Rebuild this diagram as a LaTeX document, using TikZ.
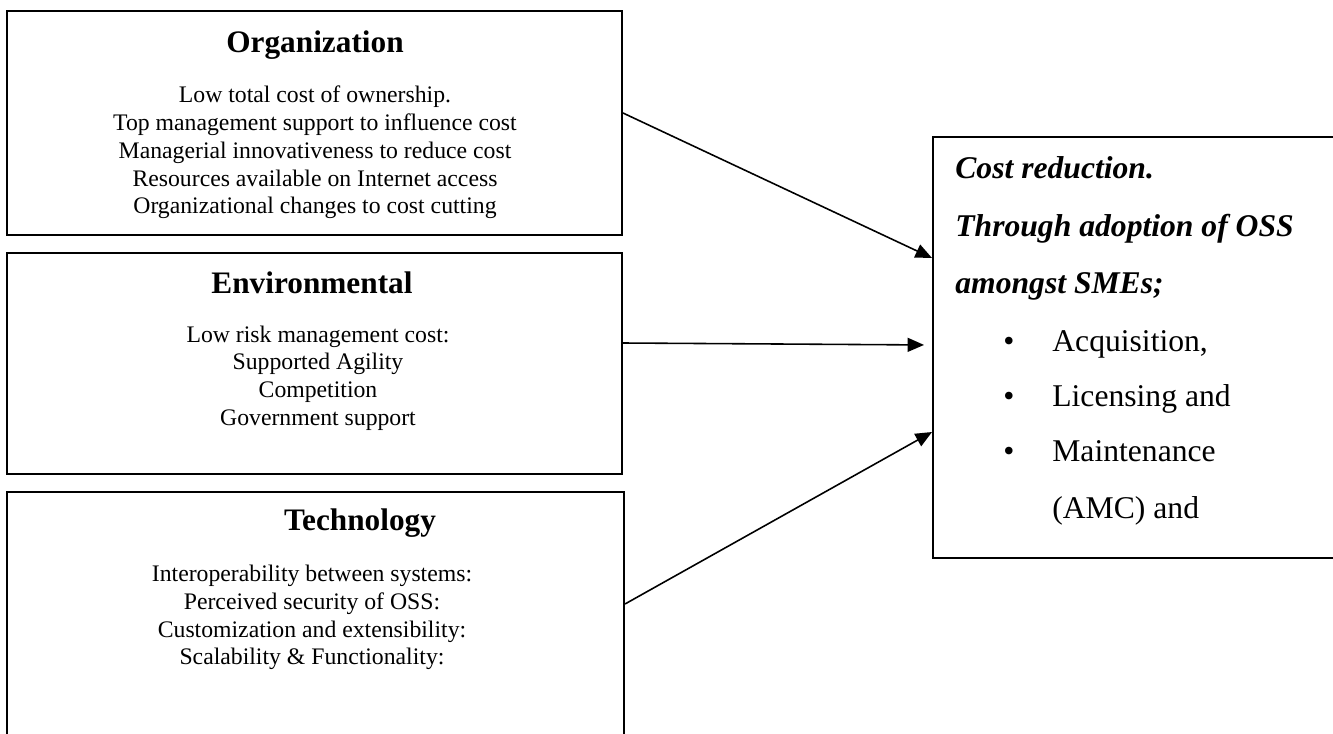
\documentclass[tikz,border=0pt]{standalone}
\usepackage{fontspec}
\setmainfont{Liberation Serif}
\usepackage{tikz}
\usetikzlibrary{calc,arrows.meta}

\begin{document}
\begin{tikzpicture}[x=0.2mm,y=-0.2mm]
          \clip (0,0) rectangle (1333,733);
          \tikzset{Box/.style = {draw, line width=1.1pt, inner sep=0pt}};
          \tikzset{Head/.style = {font=\bfseries\fontsize{17.8}{20}\selectfont}};
          \tikzset{Body/.style = {align=center, font={\fontsize{13.5}{15.8}\selectfont}}};
          \tikzset{Goal/.style = {anchor=base west, inner sep=0pt, font=\bfseries\itshape\fontsize{18}{21}\selectfont}};
          \tikzset{Item/.style = {anchor=base west, inner sep=0pt, font={\fontsize{18}{21}\selectfont}}};
          \tikzset{Link/.style = {-{Triangle[length=3.3mm,width=2.8mm]}, line width=0.9pt}};

          % factor boxes
          \node[Box, minimum width=123mm, minimum height=44.8mm] (b_org) at (314.5,123) {};
          \node[Box, minimum width=123mm, minimum height=44.2mm] (b_env) at (314.5,363.5) {};
          \node[Box, minimum width=123.4mm, minimum height=53.6mm] (b_tech) at (315.5,626) {};
          \node[Box, minimum width=85.4mm, minimum height=84.2mm] (b_cost) at (1146.5,347.5) {};

          \node[Head] (t_org) at (315,45) {Organization};
          \node[Body] (l_org) at (315,152.5) {Low total cost of ownership.\\
            Top management support to influence cost\\
            Managerial innovativeness to reduce cost\\
            Resources available on Internet access\\
            Organizational changes to cost cutting};

          \node[Head] (t_env) at (312,283) {Environmental};
          \node[Body] (l_env) at (318,378) {Low risk management cost:\\
            Supported Agility\\
            Competition\\
            Government support};

          \node[Head] (t_tech) at (360,523) {Technology};
          \node[Body] (l_tech) at (312,617.5) {Interoperability between systems:\\
            Perceived security of OSS:\\
            Customization and extensibility:\\
            Scalability \& Functionality:};

          % outcome
          \node[Goal] (g_1) at (955,179) {Cost reduction.};
          \node[Goal] (g_2) at (955,236) {Through adoption of OSS};
          \node[Goal] (g_3) at (955,293) {amongst SMEs;};
          \node[Item] (d_1) at (1003,351) {\textbullet};
          \node[Item] (d_2) at (1003,406) {\textbullet};
          \node[Item] (d_3) at (1003,461) {\textbullet};
          \node[Item] (i_1) at (1052,351) {Acquisition,};
          \node[Item] (i_2) at (1052,406) {Licensing and};
          \node[Item] (i_3) at (1052,461) {Maintenance};
          \node[Item] (i_4) at (1052,518) {(AMC) and};

          % arrows
          \draw[Link] ([yshift=2mm]b_org.east) -- ([yshift=17.9mm]b_cost.west);
          \draw[Link, shorten >=1.6mm] ([yshift=4.1mm]b_env.east) -- ([yshift=0.5mm]b_cost.west);
          \draw[Link] ([yshift=4.4mm]b_tech.east) -- ([yshift=-16.9mm]b_cost.west);
\end{tikzpicture}
\end{document}
